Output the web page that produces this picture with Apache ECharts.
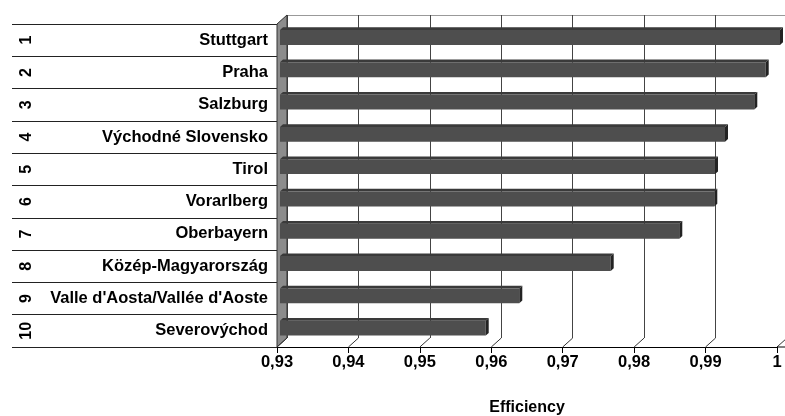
<!DOCTYPE html>
<html>
<head>
<meta charset="utf-8">
<script src="https://cdn.jsdelivr.net/npm/echarts@6/dist/echarts.min.js"></script>
<style>
html,body{margin:0;padding:0;background:#fff;}
#chart{width:785px;height:416px;}
</style>
</head>
<body>
<div id="chart"></div>
<script>
const categories = ['Stuttgart', 'Praha', 'Salzburg', 'Východné Slovensko', 'Tirol', 'Vorarlberg', 'Oberbayern', 'Közép-Magyarország', "Valle d'Aosta/Vallée d'Aoste", 'Severovýchod'];
const ranks = ['1', '2', '3', '4', '5', '6', '7', '8', '9', '10'];
const efficiency = [1.0, 0.998, 0.9964, 0.9923, 0.9909, 0.9908, 0.9859, 0.9763, 0.9635, 0.9588];
const xTicks = [0.93, 0.94, 0.95, 0.96, 0.97, 0.98, 0.99, 1.0];
const xMin = 0.93, xMax = 1.0, xInterval = 0.01;
const axisName = 'Efficiency';

const FONT = "'Liberation Sans', Arial, sans-serif";
const FS = 16.5;
const DX = 10, DY = -9;          // 3D depth offset of back wall
const BZ0 = 0.3, BZ1 = 0.6;      // bar depth range

const chart = echarts.init(document.getElementById('chart'), null, {renderer: 'canvas'});

function fmt(v) { return String(+v.toFixed(2)).replace('.', ','); }

function renderWalls(params, api) {
  const cs = params.coordSys;
  const children = [];
  children.push({type: 'polygon', shape: {points: [[cs.x, cs.y + cs.height], [cs.x + cs.width, cs.y + cs.height], [cs.x + cs.width + DX, cs.y + cs.height + DY], [cs.x + DX, cs.y + cs.height + DY]]}, style: {fill: '#fff'}});
  children.push({type: 'polygon', shape: {points: [[cs.x, cs.y], [cs.x + DX, cs.y + DY], [cs.x + DX, cs.y + cs.height + DY], [cs.x, cs.y + cs.height]]}, style: {fill: '#8c8c8c', stroke: '#333', lineWidth: 1}});
  xTicks.forEach(function (t) {
    const p = api.coord([t, 0]);
    children.push({type: 'line', shape: {x1: p[0], y1: cs.y + cs.height, x2: p[0] + DX, y2: cs.y + cs.height + DY}, style: {stroke: '#333', lineWidth: 1}});
  });
  children.push({type: 'line', shape: {x1: cs.x + cs.width, y1: cs.y + cs.height, x2: cs.x + cs.width + DX, y2: cs.y + cs.height}, style: {stroke: '#000', lineWidth: 1}});
  return {type: 'group', children: children};
}

function renderBar(params, api) {
  const v = api.value(0), idx = api.value(1);
  const s = api.coord([xMin, idx]);
  const e = api.coord([v, idx]);
  const band = api.size([0, 1])[1];
  const h = band * 0.46;
  const ox0 = DX * BZ0, oy0 = DY * BZ0;
  const ox1 = DX * BZ1, oy1 = DY * BZ1;
  const x0 = s[0] + ox0, x1 = e[0] + ox0;
  const yT = s[1] - h / 2 + oy0, yB = s[1] + h / 2 + oy0;
  const dx = ox1 - ox0, dy = oy1 - oy0;
  return {type: 'group', children: [
    {type: 'polygon', shape: {points: [[x0, yT], [x1, yT], [x1 + dx, yT + dy], [x0 + dx, yT + dy]]}, style: {fill: '#3a3a3a'}},
    {type: 'rect', shape: {x: x0, y: yT, width: x1 - x0, height: yB - yT}, style: {fill: '#4e4e4e'}},
    {type: 'polygon', shape: {points: [[x1, yT], [x1 + dx, yT + dy], [x1 + dx, yB + dy], [x1, yB]]}, style: {fill: '#232323'}}
  ]};
}

const option = {
  animation: false,
  backgroundColor: '#fff',
  textStyle: {fontFamily: FONT},
  grid: [
    {left: 277, right: 8, top: 24, bottom: 69, containLabel: false, outerBoundsMode: 'none'},
    {left: 277 + DX, right: 8 - DX, top: 24 + DY, bottom: 69 - DY, containLabel: false, outerBoundsMode: 'none'}
  ],
  xAxis: [
    {
      type: 'value', gridIndex: 0, min: xMin, max: xMax, interval: xInterval,
      axisLine: {show: true, lineStyle: {color: '#000', width: 1}},
      axisTick: {show: true, length: 6, lineStyle: {color: '#000'}},
      splitLine: {show: false},
      axisLabel: {formatter: fmt, color: '#000', fontSize: FS, fontWeight: 'bold', fontFamily: FONT, margin: 7},
      name: axisName, nameLocation: 'middle', nameGap: 53,
      nameTextStyle: {color: '#000', fontSize: FS - 0.5, fontWeight: 'bold', fontFamily: FONT}
    },
    {
      type: 'value', gridIndex: 1, min: xMin, max: xMax, interval: xInterval,
      axisLine: {show: false}, axisTick: {show: false}, axisLabel: {show: false},
      splitLine: {show: true, lineStyle: {color: '#444', width: 1}}
    }
  ],
  yAxis: [
    {
      type: 'category', gridIndex: 0, data: categories, inverse: true,
      axisLine: {show: true, lineStyle: {color: '#333'}},
      axisTick: {show: true, length: 265, lineStyle: {color: '#222', width: 1}},
      axisLabel: {color: '#000', fontSize: FS, fontWeight: 'bold', fontFamily: FONT, margin: 9}
    },
    {
      type: 'category', gridIndex: 0, data: ranks, inverse: true, position: 'left',
      axisLine: {show: false}, axisTick: {show: false},
      axisLabel: {color: '#000', fontSize: FS - 0.5, fontWeight: 'bold', fontFamily: FONT, rotate: 90, margin: 250, verticalAlign: 'middle', align: 'center'}
    },
    {
      type: 'value', gridIndex: 1, min: 0, max: 1, interval: 1,
      axisLine: {show: false}, axisTick: {show: false}, axisLabel: {show: false},
      splitLine: {show: true, lineStyle: {color: '#999', width: 1}}
    }
  ],
  series: [
    {
      type: 'custom', xAxisIndex: 0, yAxisIndex: 0, z: 1,
      renderItem: renderWalls, data: [[xMin, 0]], encode: {x: 0, y: 1}, silent: true, clip: false
    },
    {
      type: 'custom', xAxisIndex: 0, yAxisIndex: 0, z: 3,
      renderItem: renderBar,
      data: efficiency.map(function (v, i) { return [v, i]; }),
      encode: {x: 0, y: 1}
    }
  ]
};
chart.setOption(option);
</script>
</body>
</html>
